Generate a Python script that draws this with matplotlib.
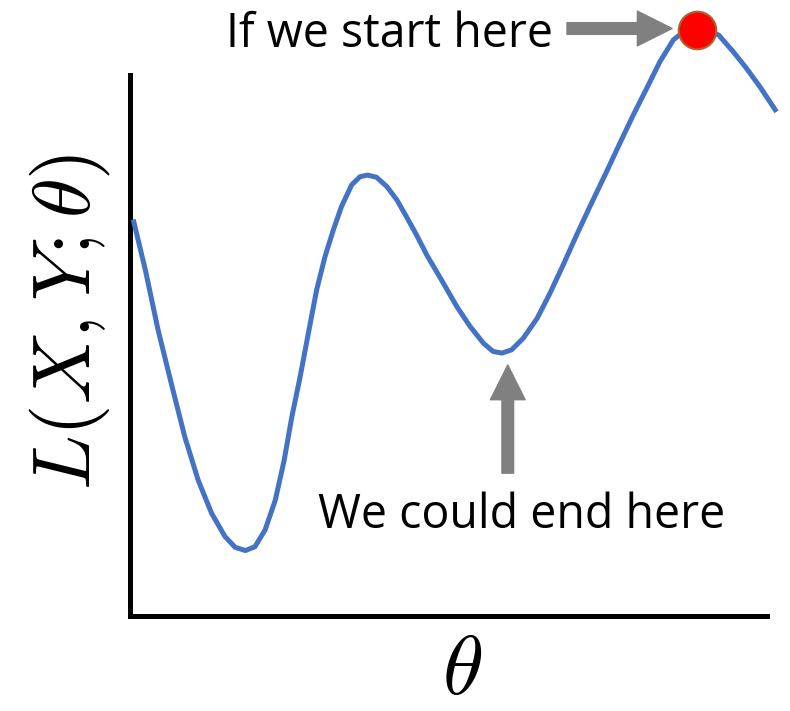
import matplotlib
matplotlib.use("Agg")
import matplotlib.pyplot as plt
from matplotlib.patches import FancyArrowPatch

plt.rcParams['mathtext.fontset'] = 'cm'

# loss curve (theta, loss in axis units 0..10)
theta = [0.05, 0.24, 0.44, 0.66, 0.86, 1.07, 1.28, 1.49, 1.65, 1.81,
         1.96, 2.12, 2.28, 2.42, 2.54, 2.67, 2.80, 2.93, 3.06, 3.19,
         3.32, 3.48, 3.61, 3.73, 3.87, 4.03, 4.19, 4.34, 4.50, 4.66,
         4.92, 5.13, 5.34, 5.55, 5.70, 5.84, 5.99, 6.17, 6.39, 6.59,
         6.80, 7.01, 7.22, 7.48, 7.69, 7.90, 8.11, 8.32, 8.53, 8.69,
         8.90, 9.24, 9.47, 9.68, 9.89, 10.15]
loss = [7.33, 6.40, 5.29, 4.24, 3.31, 2.51, 1.90, 1.47, 1.27, 1.21,
        1.28, 1.59, 2.14, 2.88, 3.68, 4.42, 5.23, 6.03, 6.64, 7.13,
        7.57, 7.97, 8.12, 8.15, 8.11, 7.94, 7.69, 7.38, 7.04, 6.67,
        6.15, 5.72, 5.35, 5.04, 4.89, 4.86, 4.92, 5.13, 5.50, 5.96,
        6.49, 7.04, 7.57, 8.21, 8.74, 9.26, 9.75, 10.25, 10.65, 10.80,
        10.87, 10.74, 10.43, 10.12, 9.78, 9.32]

start_theta, start_loss = 8.90, 10.83
start_text = "If we start here"
end_text = "We could end here"

# arrows: (tail, head) in axis units
start_arrow = ((6.86, 10.86), (8.51, 10.86))
end_arrow = ((5.93, 2.64), (5.93, 4.64))

fig = plt.figure(figsize=(7.9, 7.11), dpi=100)
ax = fig.add_axes([0.1646, 0.1336, 0.8063, 0.7609])
ax.set_xlim(0, 10)
ax.set_ylim(0, 10)

ax.plot(theta, loss, color='#4472C4', lw=3.6, clip_on=False, zorder=3,
        solid_capstyle='butt', solid_joinstyle='round')
ax.plot([start_theta], [start_loss], 'o', ms=27, mfc='#FF0000',
        mec='#B0602A', mew=1.5, clip_on=False, zorder=5)

for tail, head in (start_arrow, end_arrow):
    arr = FancyArrowPatch(tail, head, mutation_scale=1,
                          arrowstyle='simple,head_length=25,head_width=25,tail_width=8.4',
                          color='#808080', shrinkA=0, shrinkB=0, clip_on=False, zorder=4)
    ax.add_patch(arr)

font = 'Open Sans'
ax.text(6.64, 10.52, start_text, ha='right', va='baseline', fontsize=33.5,
        family=font, clip_on=False)
ax.text(6.15, 1.63, end_text, ha='center', va='baseline', fontsize=33.5,
        family=font, clip_on=False)

ax.text(0.521, -0.1, r'$\theta$', transform=ax.transAxes, ha='center',
        va='center', fontsize=60)
ax.text(-0.094, 0.543, r'$L(X,Y;\theta)$', transform=ax.transAxes,
        rotation=90, ha='center', va='center', fontsize=58)

for s in ('top', 'right'):
    ax.spines[s].set_visible(False)
for s in ('left', 'bottom'):
    ax.spines[s].set_linewidth(3.6)
ax.set_xticks([])
ax.set_yticks([])

fig.savefig('out.png', dpi=100)
